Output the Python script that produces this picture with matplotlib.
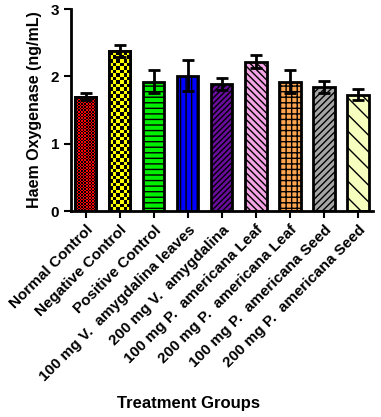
import numpy as np
import matplotlib
matplotlib.use('Agg')
import matplotlib.pyplot as plt

groups = ['Normal Control', 'Negative Control', 'Positive Control',
          '100 mg V.  amygdalina leaves', '200 mg V.  amygdalina',
          '100 mg P.  americana Leaf', '200 mg P.  americana Leaf',
          '100 mg P.  americana Seed', '200 mg P.  americana Seed']
means = [1.70, 2.38, 1.92, 2.01, 1.89, 2.22, 1.92, 1.84, 1.73]
errors = [0.05, 0.09, 0.17, 0.23, 0.09, 0.10, 0.17, 0.09, 0.08]
colors = ['#ff0000', '#ffff00', '#00ee00', '#0000ff', '#6a0d9e',
          '#f4a4e4', '#ffa54f', '#a6a6a6', '#f6ffbe']
hatches = [None, None, '---', '|||', '//////', '\\\\\\\\\\', '+++', '/////', '\\\\']
checker = {0: 14, 1: 6}  # bars filled with a checkerboard: cells across

plt.rcParams['font.family'] = ['Liberation Sans', 'DejaVu Sans']
plt.rcParams['font.weight'] = 'bold'
plt.rcParams['hatch.linewidth'] = 1.0

fig = plt.figure(figsize=(3.81, 4.17), dpi=100)
ax = fig.add_axes([0.186, 0.494, 0.793, 0.484])

x = np.arange(len(groups))
ax.set_xlim(-0.44, len(groups) - 0.56)
ax.set_ylim(0, 3)

bars = ax.bar(x, means, width=0.62, color=colors, edgecolor='black',
              linewidth=2, zorder=2)
for b, h in zip(bars, hatches):
    if h:
        b.set_hatch(h)

# data units per pixel in x and y, to keep checker cells square
p0 = ax.transData.inverted().transform((0, 0))
p1 = ax.transData.inverted().transform((1, 1))
ratio = (p1[1] - p0[1]) / (p1[0] - p0[0])

for i, n in checker.items():
    b = bars[i]
    x0, w, hgt = b.get_x(), b.get_width(), b.get_height()
    cw = w / n
    ch = cw * ratio
    rows = int(np.ceil(hgt / ch))
    grid = (np.add.outer(np.arange(rows), np.arange(n)) % 2).astype(float)
    cmap = matplotlib.colors.ListedColormap(['black', colors[i]])
    im = ax.imshow(grid, extent=(x0, x0 + w, 0, rows * ch),
                   origin='lower', cmap=cmap, interpolation='nearest',
                   aspect='auto', zorder=2.5)
    im.set_clip_path(b)
    ax.bar(x[i], means[i], width=0.62, fill=False, edgecolor='black',
           linewidth=2, zorder=3)

ax.errorbar(x, means, yerr=errors, fmt='none', ecolor='black',
            elinewidth=2, capsize=4.5, capthick=2, zorder=4)

ax.set_xlim(-0.44, len(groups) - 0.56)
ax.set_ylim(0, 3)
ax.set_aspect('auto')
ax.set_yticks([0, 1, 2, 3])
ax.set_xticks(x)
ax.set_xticklabels(groups, rotation=45, ha='right', rotation_mode='anchor',
                   fontsize=11, fontweight='bold')
ax.tick_params(axis='y', labelsize=11, width=1.5, length=5)
ax.tick_params(axis='x', width=1.5, length=5)
for s in ['top', 'right']:
    ax.spines[s].set_visible(False)
for s in ['left', 'bottom']:
    ax.spines[s].set_linewidth(2)

ax.set_ylabel('Haem Oxygenase (ng/mL)', fontsize=11.5, fontweight='bold',
              labelpad=6)
fig.text(0.496, 0.022, 'Treatment Groups', ha='center', fontsize=12,
         fontweight='bold')

fig.savefig('out.png', dpi=100)
